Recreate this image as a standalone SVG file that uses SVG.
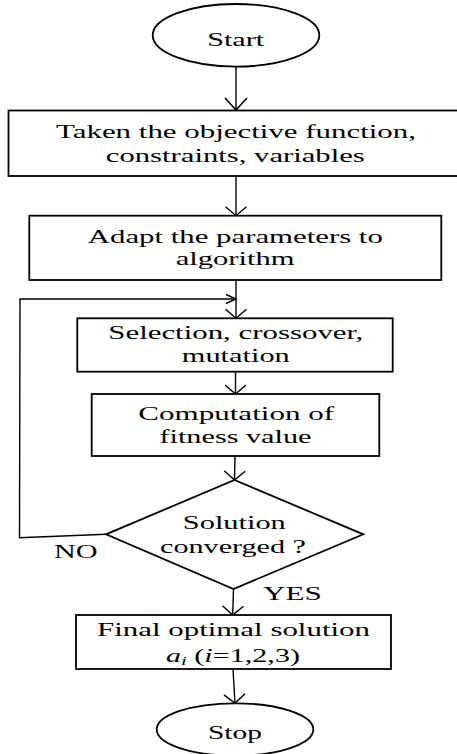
<svg xmlns="http://www.w3.org/2000/svg" width="457" height="754" viewBox="0 0 457 754">
<style>
.n{fill:#fff;stroke:#000;stroke-width:1.8}
.t{font-family:"Liberation Serif","Times New Roman",serif;font-size:19px;fill:#000;text-anchor:middle}
.c{fill:none;stroke:#000;stroke-width:1.4}
.lbl{font-family:"Liberation Serif","Times New Roman",serif;font-size:19px;fill:#000}
</style>
<defs>
<marker id="arr" markerUnits="userSpaceOnUse" viewBox="-12 -12 14 24" refX="0" refY="0" markerWidth="14" markerHeight="24" orient="auto" overflow="visible">
<path d="M-9,-10.5 L0,0 L-9,10.5" fill="none" stroke="#000" stroke-width="1.4"/>
</marker>
<marker id="arrs" markerUnits="userSpaceOnUse" viewBox="-12 -12 14 24" refX="0" refY="0" markerWidth="14" markerHeight="24" orient="auto" overflow="visible">
<path d="M-10,-4.5 L0,0 L-10,4.5" fill="none" stroke="#000" stroke-width="1.4"/>
</marker>
<marker id="arrb" markerUnits="userSpaceOnUse" viewBox="-14 -14 16 28" refX="0" refY="0" markerWidth="16" markerHeight="28" orient="auto" overflow="visible">
<path d="M-12,-11 L0,0 L-12,11" fill="none" stroke="#000" stroke-width="1.6"/>
</marker>
</defs>

<g id="connectors">
<line class="c" x1="236" y1="67" x2="236" y2="110" stroke-width="2" marker-end="url(#arrb)"/>
<line class="c" x1="236" y1="176" x2="236" y2="215.7" marker-end="url(#arr)"/>
<line class="c" x1="236" y1="280" x2="236" y2="318.3" marker-end="url(#arr)"/>
<line class="c" x1="235.5" y1="371.7" x2="235.5" y2="394" marker-end="url(#arr)"/>
<line class="c" x1="235" y1="456" x2="234.5" y2="480" marker-end="url(#arr)"/>
<line class="c" x1="233.5" y1="589" x2="232.7" y2="615" marker-end="url(#arr)"/>
<line class="c" x1="233" y1="669" x2="235" y2="703.3" marker-end="url(#arr)"/>
<polyline class="c" points="106,534.3 19.5,537.7 20,299 236,299" marker-end="url(#arrs)"/>
</g>

<g id="start">
<ellipse class="n" cx="236" cy="35.3" rx="83.3" ry="31.3"/>
<text class="t" x="235.7" y="46" font-size="21" textLength="57" lengthAdjust="spacingAndGlyphs">Start</text>
</g>

<g id="input">
<rect class="n" x="8.5" y="110.5" width="452" height="65.5"/>
<text class="t" x="236" y="137.5" textLength="360" lengthAdjust="spacingAndGlyphs">Taken the objective function,</text>
<text class="t" x="235.3" y="161.5" textLength="259" lengthAdjust="spacingAndGlyphs">constraints, variables</text>
</g>

<g id="adapt">
<rect class="n" x="29.3" y="215.7" width="412" height="64.3"/>
<text class="t" x="235.3" y="243" textLength="295" lengthAdjust="spacingAndGlyphs">Adapt the parameters to</text>
<text class="t" x="235.2" y="264.5" textLength="119" lengthAdjust="spacingAndGlyphs">algorithm</text>
</g>

<g id="selection">
<rect class="n" x="77.3" y="318.3" width="315.4" height="53.4"/>
<text class="t" x="235.8" y="338.5" textLength="255" lengthAdjust="spacingAndGlyphs">Selection, crossover,</text>
<text class="t" x="235.8" y="362" textLength="108" lengthAdjust="spacingAndGlyphs">mutation</text>
</g>

<g id="fitness">
<rect class="n" x="91.7" y="394" width="287.6" height="62"/>
<text class="t" x="236.2" y="420" textLength="196" lengthAdjust="spacingAndGlyphs">Computation of</text>
<text class="t" x="235.5" y="442.7" textLength="152" lengthAdjust="spacingAndGlyphs">fitness value</text>
</g>

<g id="decision">
<polygon class="n" points="234.5,480 363.3,534.3 233.5,589 106,534.3"/>
<text class="t" x="234.3" y="529" textLength="103" lengthAdjust="spacingAndGlyphs">Solution</text>
<text class="t" x="233" y="553" textLength="146" lengthAdjust="spacingAndGlyphs">converged ?</text>
</g>

<g id="labels">
<text class="lbl" x="54" y="557.7" textLength="43.7" lengthAdjust="spacingAndGlyphs">NO</text>
<text class="lbl" x="263" y="600" textLength="58.7" lengthAdjust="spacingAndGlyphs">YES</text>
</g>

<g id="final">
<rect class="n" x="76" y="615" width="315" height="54"/>
<text class="t" x="233.5" y="635.7" textLength="273" lengthAdjust="spacingAndGlyphs">Final optimal solution</text>
<text class="t" x="233" y="661.7" textLength="134" lengthAdjust="spacingAndGlyphs"><tspan font-style="italic">a</tspan><tspan font-style="italic" font-size="13" dy="3">i</tspan><tspan dy="-3"> (</tspan><tspan font-style="italic">i</tspan>=1,2,3)</text>
</g>

<g id="stop">
<ellipse class="n" cx="235" cy="729.5" rx="78.3" ry="26.2"/>
<text class="t" x="235" y="739.3" font-size="21" textLength="54" lengthAdjust="spacingAndGlyphs">Stop</text>
</g>
</svg>
